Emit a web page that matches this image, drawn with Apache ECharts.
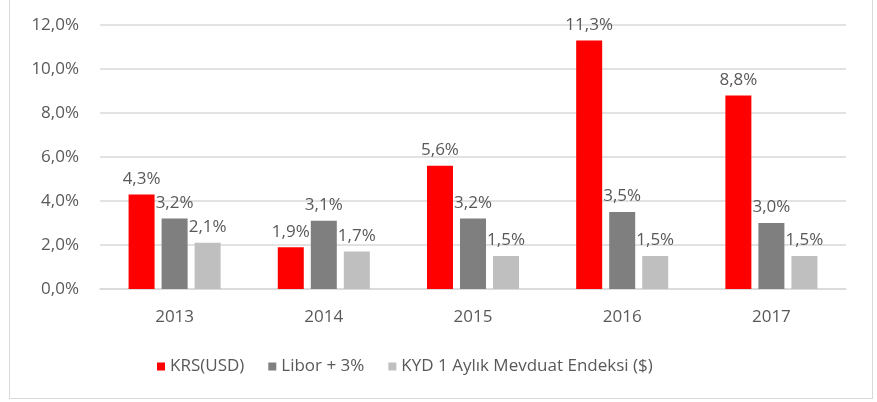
<!DOCTYPE html>
<html>
<head>
<meta charset="utf-8">
<script src="https://cdn.jsdelivr.net/npm/echarts@6/dist/echarts.min.js"></script>
<style>
html, body { margin: 0; padding: 0; background: #fff; }
#frame { position: absolute; left: 9px; top: -1px; width: 862px; height: 398px; border: 1px solid #d9d9d9; }
#main { position: absolute; left: 0; top: 0; width: 877px; height: 402px; }
</style>
</head>
<body>
<div id="frame"></div>
<div id="main"></div>
<script>
// veriler
var years = ['2013', '2014', '2015', '2016', '2017'];
var krs = [4.3, 1.9, 5.6, 11.3, 8.8];
var libor = [3.2, 3.1, 3.2, 3.5, 3.0];
var kyd = [2.1, 1.7, 1.5, 1.5, 1.5];
var seriesNames = ['KRS(USD)', 'Libor + 3%', 'KYD 1 Aylık Mevduat Endeksi ($)'];
var colors = ['#ff0000', '#7f7f7f', '#bfbfbf'];

function pct(v) {
	return v.toFixed(1).replace('.', ',') + '%';
}

var font = 'Open Sans';
var textColor = '#595959';

function bar(name, data, color) {
	return {
		name: name,
		type: 'bar',
		data: data,
		barWidth: 26,
		barGap: '27%',
		itemStyle: { color: color },
		label: {
			show: true,
			position: 'top',
			distance: 7,
			color: textColor,
			fontFamily: font,
			fontSize: 17,
			formatter: function (p) { return pct(p.value); }
		}
	};
}

var myChart = echarts.init(document.getElementById('main'));
var option = {
	animation: false,
	color: colors,
	grid: { left: 100, right: 31, top: 25, bottom: 113 },
	legend: {
		bottom: 22,
		left: 152,
		itemWidth: 8,
		itemHeight: 8,
		itemGap: 24,
		icon: 'rect',
		textStyle: { color: textColor, fontFamily: font, fontSize: 17 },
		data: seriesNames
	},
	xAxis: {
		type: 'category',
		data: years,
		axisLine: { lineStyle: { color: '#d9d9d9', width: 1.5 } },
		axisTick: { show: false },
		axisLabel: { color: textColor, fontFamily: font, fontSize: 17, margin: 20 }
	},
	yAxis: {
		type: 'value',
		min: 0,
		max: 12,
		interval: 2,
		axisLine: { show: false },
		axisTick: { show: false },
		splitLine: { lineStyle: { color: '#d9d9d9', width: 1.5 } },
		axisLabel: {
			color: textColor,
			fontFamily: font,
			fontSize: 17,
			margin: 21,
			formatter: function (v) { return pct(v); }
		}
	},
	series: [
		bar(seriesNames[0], krs, colors[0]),
		bar(seriesNames[1], libor, colors[1]),
		bar(seriesNames[2], kyd, colors[2])
	]
};
myChart.setOption(option);
</script>
</body>
</html>
